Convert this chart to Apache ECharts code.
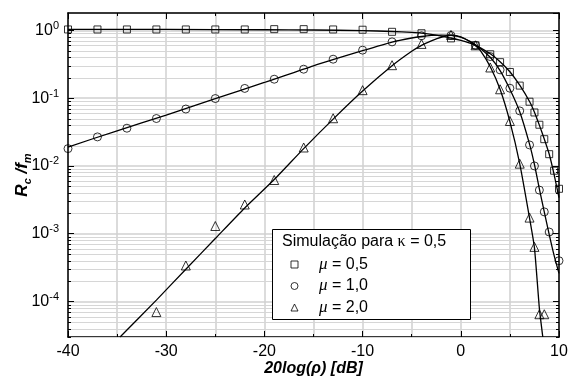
<!DOCTYPE html>
<html>
<head>
<meta charset="utf-8">
<script src="https://cdn.jsdelivr.net/npm/echarts@6/dist/echarts.min.js"></script>
<style>
  html, body { margin: 0; padding: 0; background: #fff; }
  #chart { width: 570px; height: 381px; }
</style>
</head>
<body>
<div id="chart"></div>
<script>
// simulation points (markers)
const mu05SimX = [-40, -37, -34, -31, -28, -25, -22, -19, -16, -13, -10, -7, -4, -1, 1.5, 3, 4, 5, 6, 7, 7.5, 8, 8.5, 9, 9.5, 10];
const mu05SimY = [1.03, 1.03, 1.03, 1.03, 1.03, 1.03, 1.03, 1.04, 1.04, 1.03, 1.02, 0.95, 0.905, 0.76, 0.6, 0.444, 0.339, 0.243, 0.153, 0.0885, 0.0614, 0.0405, 0.0248, 0.0149, 0.0085, 0.0046];
const mu10SimX = [-40, -37, -34, -31, -28, -25, -22, -19, -16, -13, -10, -7, -4, -1, 1.5, 3, 4, 5, 6, 7, 7.5, 8, 8.5, 9, 10];
const mu10SimY = [0.018, 0.0268, 0.036, 0.05, 0.069, 0.0986, 0.139, 0.19, 0.267, 0.375, 0.51, 0.675, 0.83, 0.84, 0.6, 0.41, 0.261, 0.14, 0.0648, 0.0204, 0.01, 0.0044, 0.0021, 0.00106, 0.0004];
const mu20SimX = [-31, -28, -25, -22, -19, -16, -13, -10, -7, -4, -1, 1.5, 3, 4, 5, 6, 7, 7.5, 8, 8.5];
const mu20SimY = [7.0e-5, 3.4e-4, 1.3e-3, 2.7e-3, 6.2e-3, 0.0187, 0.0505, 0.131, 0.306, 0.63, 0.855, 0.6, 0.283, 0.135, 0.046, 0.0108, 0.00173, 6.4e-4, 6.5e-5, 6.5e-5];

// theoretical curves (lines)
const mu05CurveX = [-40, -30, -20, -15, -10, -7, -5, -4, -3, -2, -1, 0, 1, 1.5, 2, 3, 4, 5, 6, 7, 7.5, 8, 8.5, 9, 9.5, 10];
const mu05CurveY = [1.03, 1.03, 1.02, 1.01, 0.99, 0.96, 0.93, 0.91, 0.87, 0.82, 0.77, 0.71, 0.64, 0.6, 0.55, 0.45, 0.345, 0.245, 0.155, 0.089, 0.062, 0.04, 0.025, 0.015, 0.0075, 0.0034];
const mu10CurveX = [-40, -35, -30, -25, -20, -15, -10, -7, -5, -4, -3, -2, -1, 0, 1, 1.5, 2, 3, 4, 5, 6, 7, 7.5, 8, 8.5, 9, 9.5, 10];
const mu10CurveY = [0.019, 0.033, 0.056, 0.098, 0.17, 0.3, 0.5, 0.67, 0.77, 0.81, 0.84, 0.85, 0.84, 0.79, 0.68, 0.61, 0.54, 0.4, 0.255, 0.135, 0.063, 0.021, 0.0105, 0.0046, 0.0021, 0.00098, 0.00048, 0.00026];
const mu20CurveX = [-34.7, -31, -28, -25, -22, -19, -16, -13, -10, -7, -5, -4, -3, -2, -1, 0, 1, 1.5, 2, 3, 4, 5, 6, 7, 7.5, 8, 8.35];
const mu20CurveY = [3.0e-5, 1.05e-4, 3.0e-4, 8.5e-4, 2.4e-3, 6.3e-3, 0.018, 0.049, 0.127, 0.3, 0.49, 0.6, 0.7, 0.79, 0.84, 0.8, 0.67, 0.59, 0.5, 0.29, 0.135, 0.045, 0.0108, 0.0017, 6.2e-4, 8e-5, 3.0e-5];

const seriesNames = ['μ = 0,5', 'μ = 1,0', 'μ = 2,0'];
const legendTitle = 'Simulação para ';

const xMin = -40, xMax = 10;
const yMin = 3e-5, yMax = 1.8;

// minor log grid (2..9 in each decade)
const minorGridY = [];
for (let d = -5; d <= 0; d++) {
  for (let m = 2; m <= 9; m++) {
    const v = m * Math.pow(10, d);
    if (v > yMin && v < yMax) minorGridY.push(v);
  }
}

const font = 'Liberation Sans';
const zip = (xs, ys) => xs.map((x, i) => [x, ys[i]]);

function renderMinor(params, api) {
  const cs = params.coordSys;
  const y = Math.round(api.coord([xMin, api.value(1)])[1]) + 0.5;
  return {
    type: 'group',
    children: [
      { type: 'line', shape: { x1: cs.x, y1: y, x2: cs.x + cs.width, y2: y }, style: { stroke: '#d6d6d6', lineWidth: 1 } },
      { type: 'line', shape: { x1: cs.x, y1: y, x2: cs.x + 3, y2: y }, style: { stroke: '#000', lineWidth: 1 } },
      { type: 'line', shape: { x1: cs.x + cs.width - 3, y1: y, x2: cs.x + cs.width, y2: y }, style: { stroke: '#000', lineWidth: 1 } }
    ]
  };
}

const lineSeries = (data) => ({
  type: 'line',
  data: data,
  showSymbol: false,
  smooth: 0.2,
  lineStyle: { color: '#000', width: 1.3 },
  z: 3
});

const simSeries = (name, data, symbol, size) => ({
  name: name,
  type: 'scatter',
  data: data,
  symbol: symbol,
  symbolSize: size,
  itemStyle: { color: 'transparent', borderColor: '#000', borderWidth: 1 },
  z: 4
});

const axisLineStyle = { color: '#000', width: 1.5 };

const chart = echarts.init(document.getElementById('chart'));
chart.setOption({
  animation: false,
  backgroundColor: '#fff',
  grid: { left: 68, right: 11, top: 13, bottom: 44, containLabel: false, outerBoundsMode: 'none' },
  xAxis: [
    {
      type: 'value',
      min: xMin,
      max: xMax,
      interval: 10,
      axisLine: { onZero: false, lineStyle: axisLineStyle },
      axisTick: { inside: true, length: 6, lineStyle: { color: '#000' } },
      minorTick: { show: true, splitNumber: 2, length: 3, lineStyle: { color: '#000' } },
      splitLine: { show: true, lineStyle: { color: '#d0d0d0', width: 1.5 } },
      minorSplitLine: { show: true, lineStyle: { color: '#d0d0d0', width: 1.5 } },
      axisLabel: { color: '#000', fontSize: 16, fontFamily: font, margin: 7 },
      name: '20log(ρ) [dB]',
      nameLocation: 'middle',
      nameGap: 24,
      nameMoveOverlap: false,
      nameTextStyle: { color: '#000', fontSize: 16, fontWeight: 'bold', fontStyle: 'italic', fontFamily: font }
    },
    {
      type: 'value',
      position: 'top',
      min: xMin,
      max: xMax,
      interval: 10,
      axisLine: { onZero: false, lineStyle: axisLineStyle },
      axisTick: { inside: true, length: 6, lineStyle: { color: '#000' } },
      minorTick: { show: true, splitNumber: 2, length: 3, lineStyle: { color: '#000' } },
      splitLine: { show: false },
      axisLabel: { show: false }
    }
  ],
  yAxis: [
    {
      type: 'log',
      logBase: 10,
      min: yMin,
      max: yMax,
      axisLine: { onZero: false, lineStyle: axisLineStyle },
      axisTick: { inside: true, length: 6, lineStyle: { color: '#000' } },
      splitLine: { show: true, lineStyle: { color: '#d0d0d0', width: 1.5 } },
      axisLabel: {
        margin: 9,
        showMinLabel: false,
        showMaxLabel: false,
        formatter: (v) => {
          const e = Math.log10(v);
          if (Math.abs(e - Math.round(e)) > 1e-6) return '';
          return '{b|10}{s|' + Math.round(e) + '}';
        },
        rich: {
          b: { fontSize: 16, fontFamily: font, color: '#000', lineHeight: 20 },
          s: { fontSize: 11, fontFamily: font, color: '#000', lineHeight: 11, verticalAlign: 'top' }
        }
      },
      name: '{i|R}{sub|c}{i| /f}{sub|m}',
      nameLocation: 'middle',
      nameGap: 35,
      nameMoveOverlap: false,
      nameRotate: 90,
      nameTextStyle: {
        rich: {
          i: { fontSize: 17, fontWeight: 'bold', fontStyle: 'italic', fontFamily: font, color: '#000', lineHeight: 22 },
          sub: { fontSize: 11, fontWeight: 'bold', fontStyle: 'italic', fontFamily: font, color: '#000', lineHeight: 11, verticalAlign: 'bottom' }
        }
      }
    },
    {
      type: 'log',
      logBase: 10,
      position: 'right',
      min: yMin,
      max: yMax,
      axisLine: { onZero: false, lineStyle: axisLineStyle },
      axisTick: { inside: true, length: 6, lineStyle: { color: '#000' } },
      splitLine: { show: false },
      axisLabel: { show: false }
    }
  ],
  legend: {
    data: seriesNames,
    orient: 'vertical',
    left: 290.5,
    top: 256,
    padding: 0,
    itemWidth: 7,
    itemHeight: 7,
    itemGap: 4.5,
    z: 60,
    itemStyle: { borderWidth: 1, borderColor: '#000' },
    formatter: (n) => '{sp|}{m|μ}{t|' + n.slice(1) + '}',
    textStyle: {
      color: '#000',
      rich: {
        sp: { width: 16, lineHeight: 18 },
        m: { fontSize: 17, fontStyle: 'italic', fontFamily: 'Liberation Serif', color: '#000', lineHeight: 18 },
        t: { fontSize: 16, fontFamily: font, color: '#000', lineHeight: 18 }
      }
    }
  },
  graphic: [
    {
      type: 'rect',
      z: 50,
      shape: { x: 272.5, y: 229.5, width: 198, height: 90 },
      style: { fill: '#fff', stroke: '#000', lineWidth: 1 }
    },
    {
      type: 'text',
      z: 60,
      x: 282,
      y: 242,
      style: {
        text: legendTitle + '{k|κ}{t| = 0,5}',
        font: '16px "Liberation Sans"',
        fill: '#000',
        verticalAlign: 'middle',
        rich: {
          k: { fontSize: 16, fontFamily: 'Liberation Serif', fill: '#000' },
          t: { fontSize: 16, fontFamily: font, fill: '#000' }
        }
      }
    }
  ],
  series: [
    {
      type: 'custom',
      renderItem: renderMinor,
      data: minorGridY.map((v) => [xMin, v]),
      silent: true,
      clip: false,
      z: 1
    },
    lineSeries(zip(mu05CurveX, mu05CurveY)),
    lineSeries(zip(mu10CurveX, mu10CurveY)),
    lineSeries(zip(mu20CurveX, mu20CurveY)),
    simSeries(seriesNames[0], zip(mu05SimX, mu05SimY), 'rect', 7),
    simSeries(seriesNames[1], zip(mu10SimX, mu10SimY), 'circle', 8),
    simSeries(seriesNames[2], zip(mu20SimX, mu20SimY), 'triangle', 9)
  ]
});
</script>
</body>
</html>
